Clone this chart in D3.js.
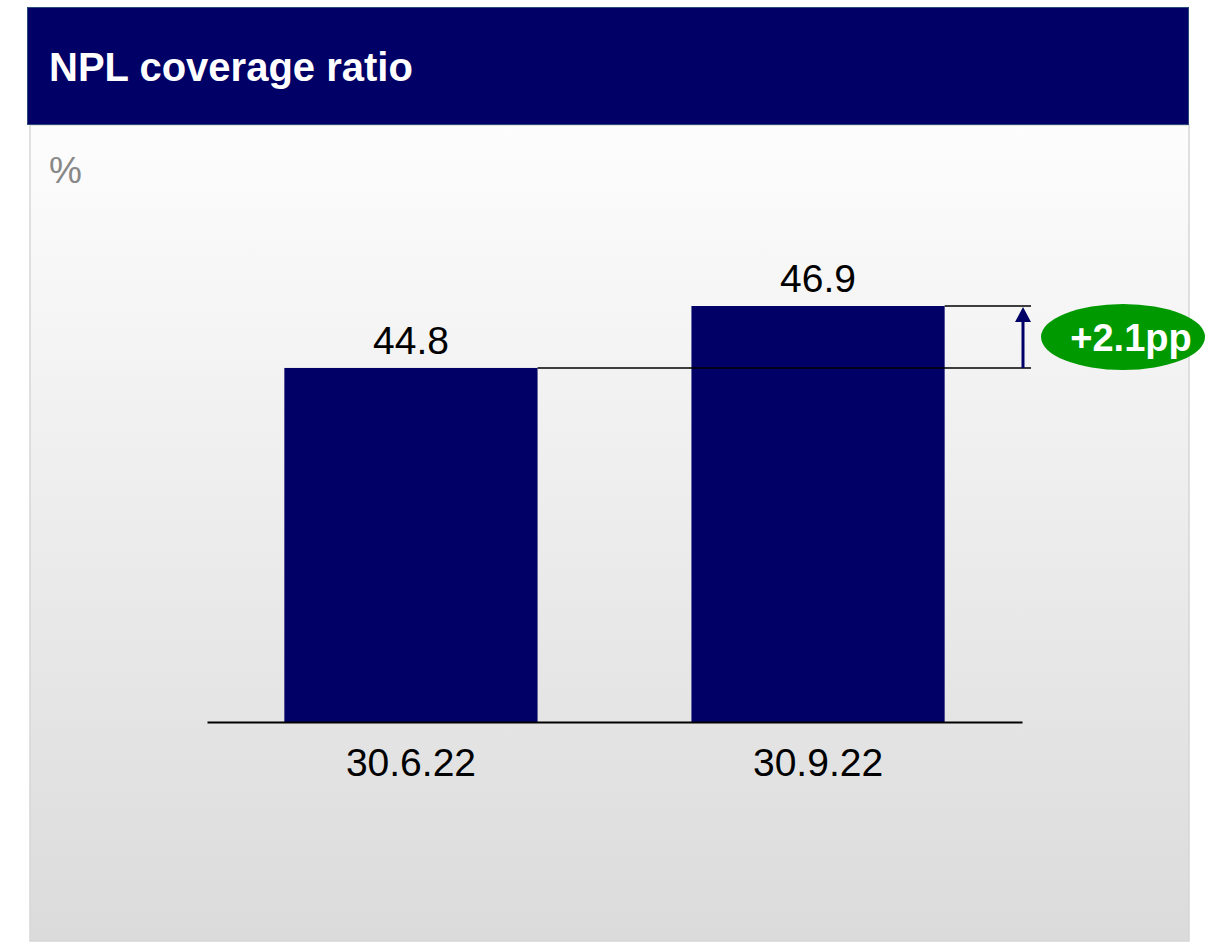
<!DOCTYPE html>
<html><head><meta charset="utf-8">
<script src="https://cdn.jsdelivr.net/npm/d3@7/dist/d3.min.js"></script>
<style>body{margin:0;background:#fff;font-family:"Liberation Sans",Arial,sans-serif}</style>
</head><body>
<svg id="c" width="1205" height="944"></svg>
<script>
const title = "NPL coverage ratio";
const unit = "%";
const categories = ["30.6.22", "30.9.22"];
const values = [44.8, 46.9];
const deltaLabel = "+2.1pp";

const svg = d3.select("#c");
const defs = svg.append("defs");
const g = defs.append("linearGradient").attr("id","bg").attr("x1",0).attr("y1",0).attr("x2",0).attr("y2",1);
g.append("stop").attr("offset","0%").attr("stop-color","#fdfdfd");
g.append("stop").attr("offset","100%").attr("stop-color","#dbdbdb");

// panel
svg.append("rect").attr("x",30).attr("y",125).attr("width",1159).attr("height",816)
  .attr("fill","url(#bg)").attr("stroke","#d6d6d6").attr("stroke-width",1.5);
// header
svg.append("rect").attr("x",27.5).attr("y",7.5).attr("width",1161).attr("height",117)
  .attr("fill","#000066").attr("stroke","#2a4a78").attr("stroke-width",1);
svg.append("text").attr("x",49).attr("y",81).attr("fill","#fff")
  .attr("font-size",40).attr("font-weight","bold").text(title);
svg.append("text").attr("x",49).attr("y",183).attr("fill","#888")
  .attr("font-size",37).text(unit);

const x = d3.scaleBand().domain(categories).range([207,1022]).paddingInner(0.378).paddingOuter(0.19);
const y = d3.scaleLinear().domain([32.8, 46.9]).range([722, 306]);

svg.selectAll(".bar").data(values).enter().append("rect")
  .attr("x",(d,i)=>x(categories[i])).attr("width",x.bandwidth())
  .attr("y",d=>y(d)).attr("height",d=>y.range()[0]-y(d)).attr("fill","#000066");

svg.selectAll(".val").data(values).enter().append("text")
  .attr("x",(d,i)=>x(categories[i])+x.bandwidth()/2).attr("y",d=>y(d)-14)
  .attr("text-anchor","middle").attr("font-size",39).attr("fill","#000")
  .text(d=>d.toFixed(1));

// baseline axis
const ax = svg.append("g").attr("transform",`translate(0,${y.range()[0]})`)
  .call(d3.axisBottom(x).tickSize(0).tickPadding(26));
ax.select(".domain").attr("stroke","#000").attr("stroke-width",2);
ax.selectAll("text").attr("font-size",39).attr("fill","#000").attr("font-family","Liberation Sans, Arial, sans-serif");

// delta annotation
const x1r = x(categories[0])+x.bandwidth();
const x2r = x(categories[1])+x.bandwidth();
const ax2 = 1023;
svg.append("line").attr("x1",x1r).attr("x2",1031).attr("y1",y(values[0])).attr("y2",y(values[0]))
  .attr("stroke","#000").attr("stroke-width",1.5);
svg.append("line").attr("x1",x2r).attr("x2",1031).attr("y1",y(values[1])).attr("y2",y(values[1]))
  .attr("stroke","#000").attr("stroke-width",1.5);
svg.append("line").attr("x1",ax2).attr("x2",ax2).attr("y1",y(values[0])).attr("y2",y(values[1])+12)
  .attr("stroke","#000066").attr("stroke-width",3);
svg.append("path").attr("d",`M${ax2-8},${y(values[1])+16} L${ax2},${y(values[1])+1} L${ax2+8},${y(values[1])+16} Z`)
  .attr("fill","#000066");
svg.append("ellipse").attr("cx",1123).attr("cy",337).attr("rx",82).attr("ry",33).attr("fill","#009900");
svg.append("text").attr("x",1131).attr("y",351).attr("text-anchor","middle").attr("fill","#fff")
  .attr("font-size",38).attr("font-weight","bold").text(deltaLabel);
</script>
</body></html>
